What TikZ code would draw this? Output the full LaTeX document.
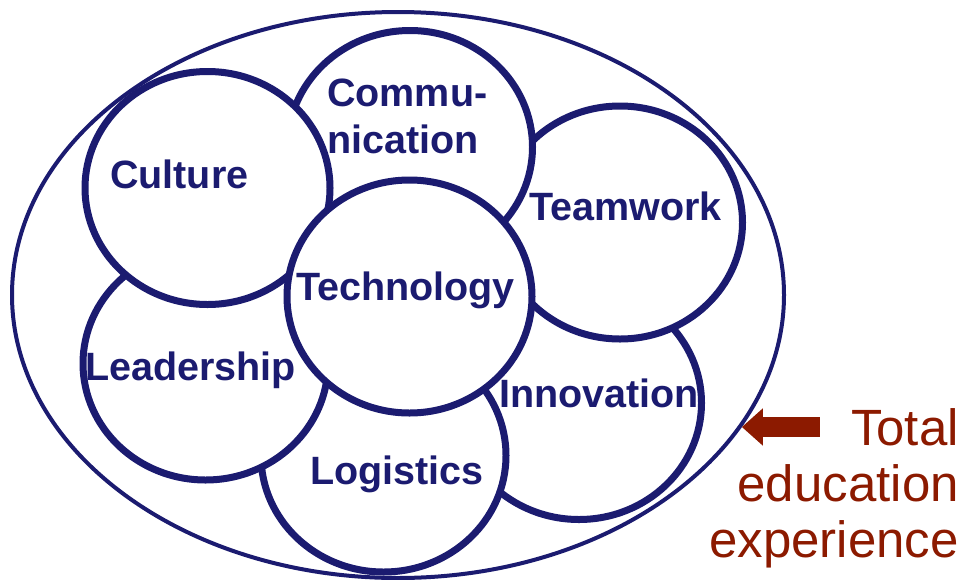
\documentclass[tikz,border=0pt]{standalone}
\usepackage{fontspec}
\setmainfont{Liberation Sans}
\usetikzlibrary{shapes.geometric,arrows.meta}
\definecolor{navy}{RGB}{27,27,112}
\definecolor{darkred}{RGB}{140,26,0}
\tikzset{
  blob/.style={ellipse, draw=navy, line width=7pt, fill=white,
    minimum width=245pt, minimum height=233pt, inner sep=0pt},
  topic/.style={text=navy, inner sep=0pt, anchor=base west,
    font=\fontsize{39.5}{47}\selectfont\bfseries},
  fat arrow/.style={draw=darkred, line width=20pt,
    -{Triangle[length=21pt,width=36pt]}},
}
\begin{document}
\begin{tikzpicture}[x=1pt,y=-1pt]
  \useasboundingbox (0,0) rectangle (964,579);
  \node[blob] (innovation) at (579,403) {};
  \node[blob] (teamwork) at (620,222.5) {};
  \node[blob] (communication) at (410,147) {};
  \node[blob] (logistics) at (383.5,455.5) {};
  \node[blob] (leadership) at (205.5,363.5) {};
  \node[blob] (culture) at (207.5,188) {};
  \node[blob] (technology) at (409.5,296.5) {};
  \node[ellipse, draw=navy, line width=4pt, inner sep=0pt,
    minimum width=772pt, minimum height=566pt] (whole) at (398,295) {};
    % Nombres de los temas
  \node[topic] (culturename) at (110,188) {Culture};
  \node[topic, align=left] (communicationname) at (327,153) {Commu-\\nication};
  \node[topic] (teamworkname) at (529,220) {Teamwork};
  \node[topic] (technologyname) at (296,300) {Technology};
  \node[topic] (leadershipname) at (85,380) {Leadership};
  \node[topic] (logisticsname) at (310,484) {Logistics};
  \node[topic] (innovationname) at (499,407) {Innovation};
  \node[text=darkred, inner sep=0pt, anchor=base east, align=right,
    font=\fontsize{51}{56}\selectfont] (total) at (959,557)
    {Total\\education\\experience};
  \draw[fat arrow] ([xshift=78pt]whole.-21) -- (whole.-21);
\end{tikzpicture}
\end{document}
